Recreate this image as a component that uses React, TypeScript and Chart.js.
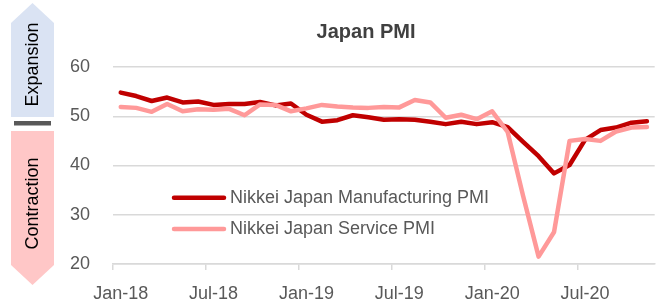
import { useEffect, useRef } from "react";
import { Chart, registerables } from "chart.js";

Chart.register(...registerables);

const categories = [
  "Jan-18", "Feb-18", "Mar-18", "Apr-18", "May-18", "Jun-18", "Jul-18", "Aug-18", "Sep-18", "Oct-18", "Nov-18", "Dec-18",
  "Jan-19", "Feb-19", "Mar-19", "Apr-19", "May-19", "Jun-19", "Jul-19", "Aug-19", "Sep-19", "Oct-19", "Nov-19", "Dec-19",
  "Jan-20", "Feb-20", "Mar-20", "Apr-20", "May-20", "Jun-20", "Jul-20", "Aug-20", "Sep-20", "Oct-20", "Nov-20",
];

const manufacturingPMI = [
  54.8, 54.1, 53.1, 53.8, 52.8, 53.0, 52.3, 52.5, 52.5, 52.9, 52.2, 52.6,
  50.3, 48.9, 49.2, 50.2, 49.8, 49.3, 49.4, 49.3, 48.9, 48.4, 48.9, 48.4,
  48.8, 47.8, 44.8, 41.9, 38.4, 40.1, 45.2, 47.2, 47.7, 48.7, 49.0,
];

const servicePMI = [
  51.9, 51.7, 50.9, 52.5, 51.0, 51.4, 51.3, 51.5, 50.2, 52.4, 52.3, 51.0,
  51.6, 52.3, 52.0, 51.8, 51.7, 51.9, 51.8, 53.3, 52.8, 49.7, 50.3, 49.4,
  51.0, 46.8, 33.8, 21.5, 26.5, 45.0, 45.4, 45.0, 46.9, 47.7, 47.8,
];

const yTickValues = [20, 30, 40, 50, 60];
const chartTitle = "Japan PMI";
const seriesNames = ["Nikkei Japan Manufacturing PMI", "Nikkei Japan Service PMI"];
const seriesColors = ["#C00000", "#FF9999"];
const zoneLabels = ["Expansion", "Contraction"];

const FONT = '"Liberation Sans", Arial, Helvetica, sans-serif';
const TEXT_GRAY = "#595959";
const GRID = "#D9D9D9";

const decorPlugin = {
  id: "decor",
  afterDraw(chart: any) {
    const ctx: CanvasRenderingContext2D = chart.ctx;
    ctx.save();

    // Title
    ctx.fillStyle = "#404040";
    ctx.font = `bold 20px ${FONT}`;
    ctx.textAlign = "center";
    ctx.textBaseline = "alphabetic";
    ctx.fillText(chartTitle, 366, 38);

    // Expansion arrow
    ctx.fillStyle = "#DAE3F3";
    ctx.beginPath();
    ctx.moveTo(32.5, 3);
    ctx.lineTo(54, 23);
    ctx.lineTo(54, 117);
    ctx.lineTo(11, 117);
    ctx.lineTo(11, 23);
    ctx.closePath();
    ctx.fill();

    // divider bar
    ctx.fillStyle = "#595959";
    ctx.fillRect(14, 121, 37, 4.5);

    // Contraction arrow
    ctx.fillStyle = "#FFC7C7";
    ctx.beginPath();
    ctx.moveTo(11, 131);
    ctx.lineTo(54, 131);
    ctx.lineTo(54, 265);
    ctx.lineTo(32.5, 285);
    ctx.lineTo(11, 265);
    ctx.closePath();
    ctx.fill();

    // rotated zone labels
    ctx.fillStyle = "#000000";
    ctx.font = `18px ${FONT}`;
    ctx.textAlign = "center";
    ctx.textBaseline = "middle";
    ctx.save();
    ctx.translate(33, 64.5);
    ctx.rotate(-Math.PI / 2);
    ctx.fillText(zoneLabels[0], 0, 0);
    ctx.restore();
    ctx.save();
    ctx.translate(33, 203.5);
    ctx.rotate(-Math.PI / 2);
    ctx.fillText(zoneLabels[1], 0, 0);
    ctx.restore();

    // Legend
    const legendY = [197.7, 229];
    ctx.lineCap = "round";
    ctx.lineWidth = 4.5;
    ctx.font = `18px ${FONT}`;
    ctx.textAlign = "left";
    ctx.textBaseline = "middle";
    for (let i = 0; i < seriesNames.length; i++) {
      ctx.strokeStyle = seriesColors[i];
      ctx.beginPath();
      ctx.moveTo(174, legendY[i]);
      ctx.lineTo(224, legendY[i]);
      ctx.stroke();
      ctx.fillStyle = TEXT_GRAY;
      ctx.fillText(seriesNames[i], 230, legendY[i] + 0.5);
    }

    ctx.restore();
  },
};

export default function App() {
  const ref = useRef<HTMLCanvasElement>(null);

  useEffect(() => {
    document.body.style.margin = "0";
    const canvas = ref.current;
    if (!canvas) return;
    const chart = new Chart(canvas, {
      type: "line",
      data: {
        labels: categories,
        datasets: [
          {
            label: seriesNames[0],
            data: manufacturingPMI,
            borderColor: seriesColors[0],
            backgroundColor: seriesColors[0],
            borderWidth: 4.5,
            pointRadius: 0,
            tension: 0,
            borderJoinStyle: "round",
            borderCapStyle: "round",
            order: 2,
          },
          {
            label: seriesNames[1],
            data: servicePMI,
            borderColor: seriesColors[1],
            backgroundColor: seriesColors[1],
            borderWidth: 4.5,
            pointRadius: 0,
            tension: 0,
            borderJoinStyle: "round",
            borderCapStyle: "round",
            order: 1,
          },
        ],
      },
      options: {
        responsive: false,
        animation: false,
        devicePixelRatio: 1,
        layout: { padding: { left: 0, right: 4.5, top: 67, bottom: 0 } },
        plugins: {
          legend: { display: false },
          title: { display: false },
          tooltip: { enabled: false },
        },
        scales: {
          x: {
            type: "category",
            offset: true,
            afterFit: (scale: any) => {
              scale.height = 43;
            },
            grid: {
              offset: true,
              drawOnChartArea: false,
              drawTicks: true,
              tickLength: 6,
              lineWidth: 1.5,
              color: (c: any) => (c.index % 6 === 0 && c.index < categories.length ? GRID : "rgba(0,0,0,0)"),
            },
            border: { display: true, color: GRID, width: 1.5 },
            ticks: {
              autoSkip: false,
              maxRotation: 0,
              minRotation: 0,
              padding: 13,
              color: TEXT_GRAY,
              font: { family: FONT, size: 18 },
              callback: (_v: any, i: number) => (i % 6 === 0 ? categories[i] : ""),
            },
          },
          y: {
            min: 20,
            max: 60,
            afterFit: (scale: any) => {
              scale.width = 113;
            },
            afterBuildTicks: (scale: any) => {
              scale.ticks = yTickValues.map((v) => ({ value: v }));
            },
            grid: { color: GRID, lineWidth: 1.5, drawTicks: false },
            border: { display: false },
            ticks: {
              padding: 23,
              color: TEXT_GRAY,
              font: { family: FONT, size: 18 },
            },
          },
        },
      },
      plugins: [decorPlugin],
    });
    return () => chart.destroy();
  }, []);

  return (
    <div style={{ width: 660, height: 307, position: "relative" }}>
      <canvas ref={ref} width={660} height={307} style={{ display: "block" }} />
    </div>
  );
}
